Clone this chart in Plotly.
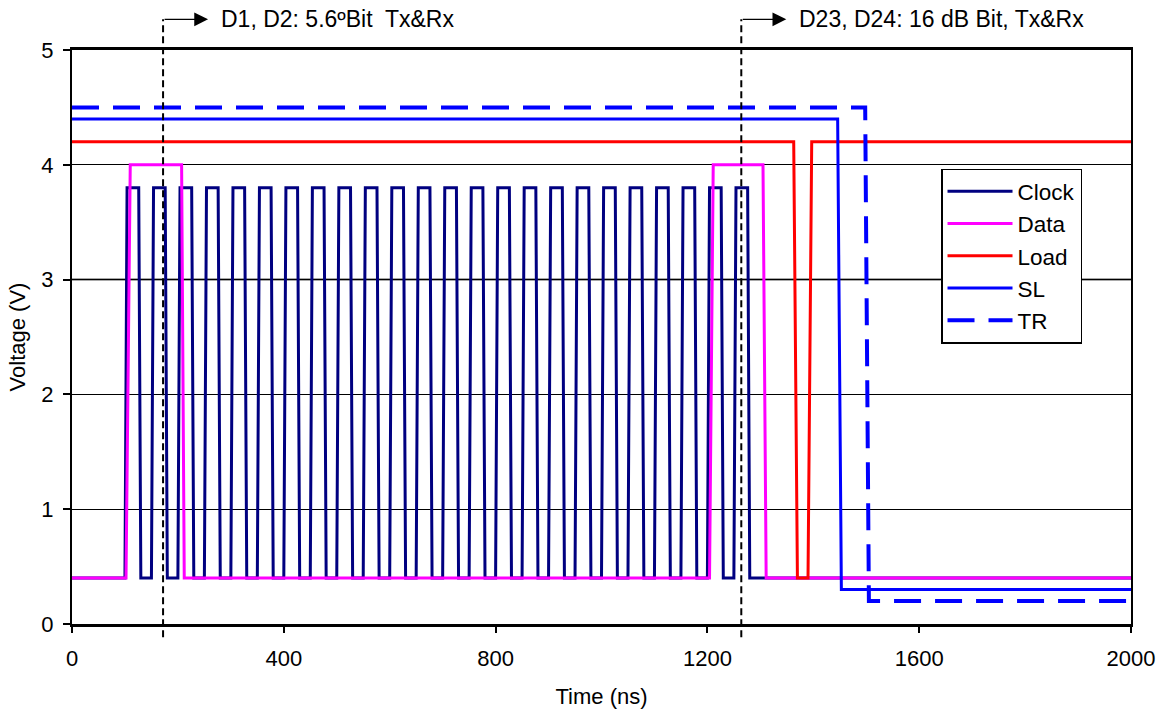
import plotly.graph_objects as go

# ---------------- data ----------------
clock_rise_ns = [100, 150, 200, 250, 300, 350, 400, 450, 500, 550, 600, 650,
                 700, 750, 800, 850, 900, 950, 1000, 1050, 1100, 1150, 1200, 1250]
clock_low_v = 0.4
clock_high_v = 3.8

data_t = [0, 102, 110, 207, 212, 1204, 1211, 1305, 1311, 2000]
data_v = [0.4, 0.4, 4.0, 4.0, 0.4, 0.4, 4.0, 4.0, 0.4, 0.4]

load_t = [0, 1363, 1370, 1390, 1397, 2000]
load_v = [4.2, 4.2, 0.4, 0.4, 4.2, 4.2]

sl_t = [0, 1446, 1453, 2000]
sl_v = [4.4, 4.4, 0.3, 0.3]

tr_t = [0, 1498, 1505, 2000]
tr_v = [4.5, 4.5, 0.2, 0.2]

marker_t = [172, 1264]
marker_labels = ["D1, D2: 5.6ºBit\u00a0 Tx&Rx", "D23, D24: 16 dB Bit, Tx&Rx"]

x_ticks = [0, 400, 800, 1200, 1600, 2000]
y_ticks = [0, 1, 2, 3, 4, 5]

# ---------------- build clock waveform from its rising edges ----------------
clock_t = [0]
clock_v = [clock_low_v]
for t in clock_rise_ns:
    clock_t += [t, t + 4, t + 26, t + 30]
    clock_v += [clock_low_v, clock_high_v, clock_high_v, clock_low_v]
clock_t.append(2000)
clock_v.append(clock_low_v)

FONT = "Liberation Sans, Arial, sans-serif"

fig = go.Figure()
fig.add_trace(go.Scatter(x=clock_t, y=clock_v, mode="lines", name="Clock",
                         line=dict(color="#000080", width=3)))
fig.add_trace(go.Scatter(x=data_t, y=data_v, mode="lines", name="Data",
                         line=dict(color="#FF00FF", width=3)))
fig.add_trace(go.Scatter(x=load_t, y=load_v, mode="lines", name="Load",
                         line=dict(color="#FF0000", width=3)))
fig.add_trace(go.Scatter(x=sl_t, y=sl_v, mode="lines", name="SL",
                         line=dict(color="#0000FF", width=3)))
fig.add_trace(go.Scatter(x=tr_t, y=tr_v, mode="lines", name="TR",
                         line=dict(color="#0000FF", width=4, dash="27px,14px")))

# gray heavier gridline at 3 V (as in the reference)
fig.add_shape(type="line", xref="paper", yref="y", x0=0, x1=1, y0=3, y1=3,
              line=dict(color="#555555", width=2), layer="below")

for t, label in zip(marker_t, marker_labels):
    fig.add_shape(type="line", xref="x", yref="paper", x0=t, x1=t,
                  y0=-0.023, y1=1.0535,
                  line=dict(color="black", width=2, dash="7px,4px"))
    fig.add_annotation(xref="x", yref="paper", x=t, y=1.0535, xshift=45,
                       ax=-45, ay=0, axref="pixel", ayref="pixel",
                       showarrow=True, arrowhead=2, arrowsize=2.3,
                       arrowwidth=1.2, arrowcolor="black", standoff=0,
                       startstandoff=0, text="")
    fig.add_annotation(xref="x", yref="paper", x=t, y=1.0535, xshift=56,
                       xanchor="left", yanchor="middle", showarrow=False,
                       text=label, font=dict(family=FONT, size=23, color="black"))

fig.update_layout(
    width=1160, height=709,
    margin=dict(l=72, r=29, t=50, b=85, autoexpand=False),
    paper_bgcolor="white", plot_bgcolor="white",
    font=dict(family=FONT, size=22, color="black"),
    showlegend=True,
    legend=dict(x=0.8206, y=0.6408, xanchor="left", yanchor="middle",
                bgcolor="white", bordercolor="black", borderwidth=1.5,
                font=dict(family=FONT, size=22.5, color="black"),
                itemwidth=65, tracegroupgap=0),
    xaxis=dict(range=[0, 2000], tickvals=x_ticks, ticks="outside", ticklen=6,
               tickwidth=1.5, tickcolor="black", showline=True, linecolor="black",
               linewidth=2.5, mirror=True, showgrid=False, zeroline=False,
               automargin=False, ticklabelstandoff=7,
               title=dict(text="Time (ns)", standoff=20,
                          font=dict(family=FONT, size=22)),
               tickfont=dict(family=FONT, size=22)),
    yaxis=dict(range=[0, 5], tickvals=y_ticks, ticks="outside", ticklen=7,
               tickwidth=1.5, tickcolor="black", showline=True, linecolor="black",
               linewidth=2, mirror=True, showgrid=True, gridcolor="black",
               gridwidth=1, zeroline=False, ticklabelstandoff=5,
               automargin=False,
               title=dict(text="Voltage (V)", standoff=10,
                          font=dict(family=FONT, size=22)),
               tickfont=dict(family=FONT, size=22)),
)

fig.write_html("out.html")
